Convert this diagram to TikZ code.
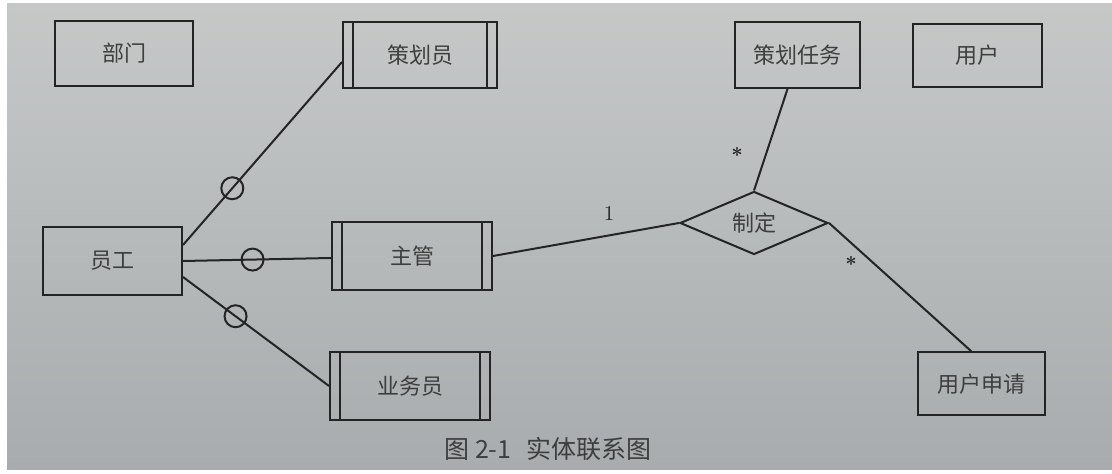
\documentclass[tikz,border=0pt]{standalone}
\usepackage{fontspec}
\newfontfamily\cjk{Noto Sans CJK SC}
\usetikzlibrary{shapes.geometric}
\definecolor{bgtop}{RGB}{198,200,200}
\definecolor{bgbot}{RGB}{168,172,174}
\definecolor{ink}{RGB}{36,36,36}
\definecolor{txt}{RGB}{62,62,62}
\tikzset{
  entity/.style={draw=ink, line width=1pt, rectangle, inner sep=0pt,
    font=\cjk\fontsize{11}{13}\selectfont, text=txt},
  weak/.style={entity, path picture={
    \draw[ink, line width=0.9pt]
      ([xshift=5pt]path picture bounding box.north west) -- ([xshift=5pt]path picture bounding box.south west)
      ([xshift=-5pt]path picture bounding box.north east) -- ([xshift=-5pt]path picture bounding box.south east);}},
  rel/.style={draw=ink, line width=1pt, diamond, aspect=2.3, inner sep=0pt,
    minimum width=74pt, minimum height=31.5pt, font=\cjk\fontsize{11}{13}\selectfont, text=txt},
  conn/.style={draw=ink, line width=1pt},
  ring/.style={draw=ink, line width=1pt, circle, minimum size=11pt, inner sep=0pt},
  card/.style={text=ink, font=\bfseries\fontsize{10}{12}\selectfont, inner sep=0pt}
}
\begin{document}
\begin{tikzpicture}[x=0.5pt, y=-0.5pt]
\useasboundingbox (0,0) rectangle (1112,474);
\fill[white] (0,0) rectangle (1112,474);
\shade[top color=bgtop, bottom color=bgbot] (7,4) rectangle (1112,470);

\node[entity, minimum width=69pt, minimum height=32.5pt] (bm) at (124,53.5) {部门};
\node[weak, minimum width=77pt, minimum height=33pt] (chy) at (420,55) {策划员};
\node[entity, minimum width=62.5pt, minimum height=33pt] (chrw) at (797.5,55) {策划任务};
\node[entity, minimum width=64.5pt, minimum height=31.5pt] (yh) at (977.5,55.5) {用户};
\node[entity, minimum width=69.5pt, minimum height=34pt] (yg) at (112.5,261) {员工};
\node[weak, minimum width=80pt, minimum height=34pt] (zg) at (412,256) {主管};
\node[weak, minimum width=80pt, minimum height=34pt] (ywy) at (410,386) {业务员};
\node[entity, minimum width=63.5pt, minimum height=31.5pt] (yhsq) at (981.5,384) {用户申请};
\node[rel] (zd) at (754,223) {制定};

\draw[conn] ([yshift=8pt]yg.east) -- node[ring, pos=0.31] (c1) {} ([yshift=-3.5pt]chy.west);
\draw[conn] (yg.east) -- node[ring, pos=0.47] (c2) {} ([yshift=-1pt]zg.west);
\draw[conn] ([yshift=-8pt]yg.east) -- node[ring, pos=0.36] (c3) {} (ywy.west);
\draw[conn] (zg.east) -- (zd.west);
\draw[conn] ([xshift=-5pt]chrw.south) -- (zd.north);
\draw[conn] (zd.east) -- ([xshift=-5pt]yhsq.north);

\node[card, font=\fontsize{10.5}{12}\selectfont] (l1) at (609,214) {1};
\node[card] (l2) at (737,155) {*};
\node[card] (l3) at (851,264) {*};

\node[text=txt, font=\cjk\fontsize{12.5}{14}\selectfont, inner sep=0pt] (cap) at (548,449) {图 2-1\hspace{0.6em}实体联系图};
\end{tikzpicture}
\end{document}
